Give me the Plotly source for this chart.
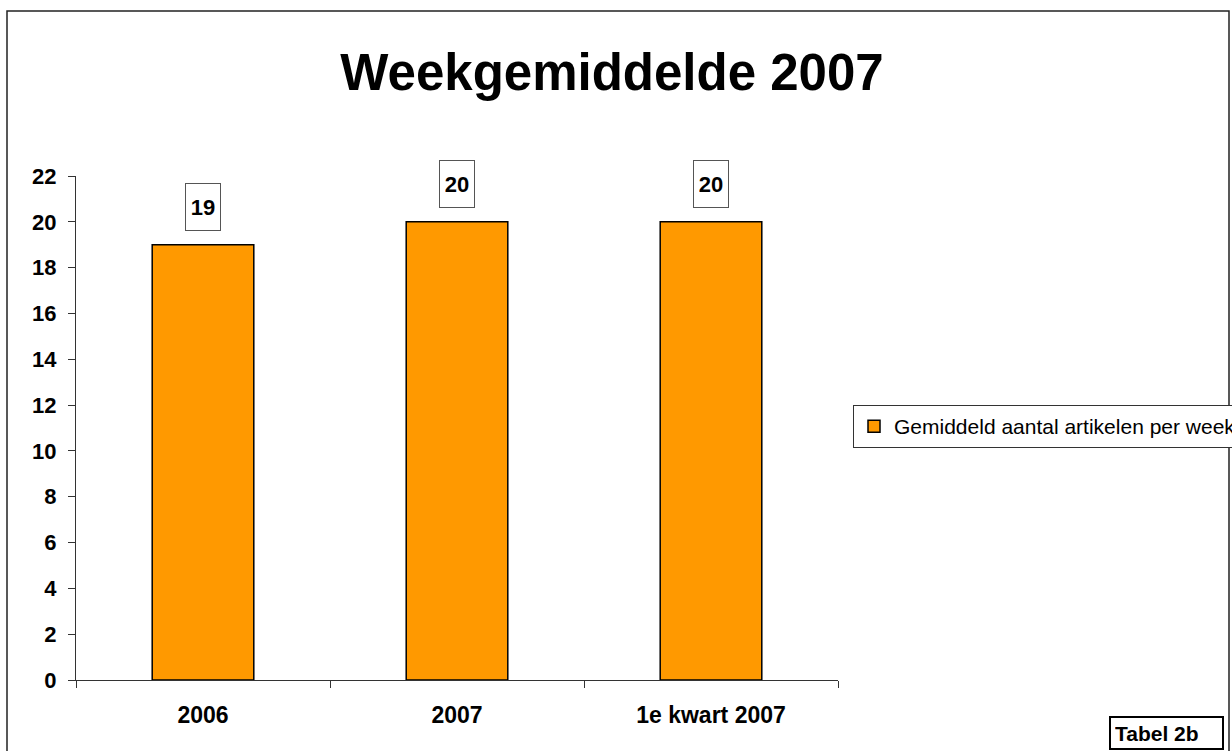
import plotly.graph_objects as go

categories = ['2006', '2007', '1e kwart 2007']
values = [19, 20, 20]
series_name = 'Gemiddeld aantal artikelen per week'
y_ticks = list(range(0, 23, 2))

FONT = 'Liberation Sans, Arial, sans-serif'

# plot area in pixels: x 76..838, y 176..680
L, R, T, B = 76, 1232 - 838, 176, 751 - 680
PW, PH = 1232 - L - R, 751 - T - B


def px_x(px):
    return (px - L) / PW


def px_y(py):
    return (751 - B - py) / PH


fig = go.Figure()
fig.add_trace(go.Bar(
    x=categories, y=values, name=series_name,
    marker=dict(color='#FF9900', line=dict(color='black', width=1.5)),
    showlegend=True,
))

# value labels in boxes above the bars (x given as category index)
for i, v in enumerate(values):
    fig.add_annotation(
        x=i, y=v, text='%d' % v, showarrow=False,
        yanchor='bottom', yshift=14,
        width=24, height=36, borderpad=5,
        bordercolor='#555', borderwidth=1, bgcolor='white',
        font=dict(family=FONT, size=22, color='black', weight='bold'),
    )

# "Tabel 2b" box
fig.add_annotation(
    xref='paper', yref='paper', x=px_x(1109), y=px_y(716),
    xanchor='left', yanchor='top', text='Tabel 2b', showarrow=False,
    width=103, height=22, borderpad=4, align='left',
    bordercolor='black', borderwidth=2, bgcolor='white',
    font=dict(family=FONT, size=21, color='black', weight='bold'),
)

# outer chart border
fig.add_shape(type='rect', xref='paper', yref='paper',
              x0=px_x(7), x1=px_x(1229), y0=px_y(762), y1=px_y(11),
              line=dict(color='#222', width=1.5), layer='below')

fig.update_xaxes(
    type='category', tickangle=0, range=[-0.5, 2.5],
    showline=True, linecolor='#333', linewidth=1,
    ticks='outside', tickson='boundaries', ticklen=7, tickcolor='#333',
    ticklabelstandoff=14,
    tickfont=dict(family=FONT, size=23, color='black', weight='bold'),
    showgrid=False,
)
fig.update_yaxes(
    range=[0, 22], tickvals=y_ticks,
    showline=True, linecolor='#333', linewidth=1,
    ticks='outside', ticklen=7, tickcolor='#333',
    ticklabelstandoff=7,
    tickfont=dict(family=FONT, size=22, color='black', weight='bold'),
    showgrid=False, zeroline=False,
)

fig.update_layout(
    width=1232, height=751,
    margin=dict(l=L, r=R, t=T, b=B, autoexpand=False),
    plot_bgcolor='white', paper_bgcolor='white',
    bargap=0.6,
    title=dict(text='Weekgemiddelde 2007', xref='container', yref='container',
               x=612 / 1232, y=1 - 72 / 751, xanchor='center', yanchor='middle',
               font=dict(family=FONT, size=51, color='black', weight='bold')),
    legend=dict(x=px_x(853), y=px_y(426.5), xanchor='left', yanchor='middle',
                bordercolor='#333', borderwidth=1, bgcolor='white',
                font=dict(family=FONT, size=21, color='black')),
    font=dict(family=FONT),
)

fig.write_html('out.html', config=dict(displayModeBar=False),
               post_script="document.body.style.margin='0';")
